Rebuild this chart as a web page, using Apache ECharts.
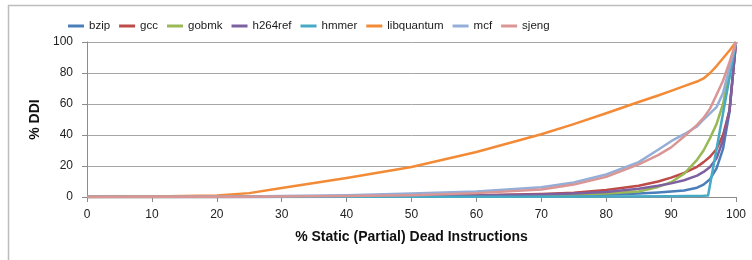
<!DOCTYPE html>
<html>
<head>
<meta charset="utf-8">
<script src="https://cdn.jsdelivr.net/npm/echarts@6/dist/echarts.min.js"></script>
<style>
  html, body { margin: 0; padding: 0; background: #fff; }
  #main { width: 752px; height: 260px; }
</style>
</head>
<body>
<div id="main"></div>
<script>
// sample points along the x axis (% static dead instructions)
var xs = [0, 10, 20, 25, 30, 40, 50, 60, 70, 75, 80, 85, 88, 90, 92, 94, 95, 96, 97, 98, 99, 100];

var bzip       = [0, 0, 0, 0, 0, 0.1, 0.2, 0.4, 0.7, 1, 1.4, 2.2, 2.9, 3.5, 4.2, 6, 8, 11.5, 18.5, 31, 55, 100];
var gcc        = [0, 0, 0, 0.1, 0.2, 0.4, 0.7, 1.2, 2, 2.8, 4.5, 7.3, 10, 12.5, 15.5, 19.5, 22.5, 26, 31, 40, 56, 100];
var gobmk      = [0, 0, 0, 0, 0.1, 0.2, 0.4, 0.7, 1.2, 1.6, 2.3, 3.5, 6.5, 9.5, 15, 24, 30, 38, 47, 60, 81, 100];
var h264ref    = [0, 0, 0, 0, 0.1, 0.3, 0.5, 0.9, 1.6, 2.3, 3.3, 5.3, 7.2, 8.8, 10.8, 13.8, 16.2, 19.4, 25, 36.6, 56, 100];
var libquantum = [0, 0.3, 1, 2.5, 5.8, 12.2, 19.4, 29, 40.5, 47, 54, 61.3, 65.5, 68.5, 71.5, 74.5, 76.5, 80, 84.5, 89.5, 94.5, 100];
var mcf        = [0, 0.1, 0.3, 0.4, 0.6, 1.2, 2.2, 3.6, 6.3, 9.3, 14.5, 22.5, 30.5, 36, 40.5, 45.5, 50, 54, 58, 67, 83.5, 100];
var sjeng      = [0, 0, 0.1, 0.2, 0.3, 0.6, 1.2, 2.5, 4.8, 8, 13, 21, 27, 32, 39, 46.5, 51, 57, 66, 75, 87, 100];

// hmmer stays flat and jumps near the end, so it has its own x points
var hmmerX = [0, 50, 70, 80, 90, 95, 95.7, 100];
var hmmer  = [0, 0.1, 0.2, 0.3, 0.5, 0.8, 1, 100];

var names  = ['bzip', 'gcc', 'gobmk', 'h264ref', 'hmmer', 'libquantum', 'mcf', 'sjeng'];
var colors = ['#4A7EBB', '#BE4B48', '#98B954', '#7D60A0', '#46AAC5', '#F38A35', '#94AED8', '#D99694'];

var xTicks = [0, 10, 20, 30, 40, 50, 60, 70, 80, 90, 100];
var yTicks = [0, 20, 40, 60, 80, 100];

function pairs(x, y) {
    var out = [];
    for (var i = 0; i < x.length; i++) {
        out.push([x[i], y[i]]);
    }
    return out;
}

var seriesData = [
    pairs(xs, bzip),
    pairs(xs, gcc),
    pairs(xs, gobmk),
    pairs(xs, h264ref),
    pairs(hmmerX, hmmer),
    pairs(xs, libquantum),
    pairs(xs, mcf),
    pairs(xs, sjeng)
];

var font = 'Liberation Sans, Arial, sans-serif';
var chart = echarts.init(document.getElementById('main'));

var series = [];
names.forEach(function(name, i) {
    series.push({
        name: name,
        type: 'line',
        symbol: 'none',
        smooth: false,
        lineStyle: { width: 2.5, color: colors[i], join: 'round' },
        itemStyle: { color: colors[i] },
        data: seriesData[i]
    });
});

chart.setOption({
    animation: false,
    graphic: [{
        type: 'rect',
        shape: { x: 8.5, y: 5.5, width: 800, height: 300 },
        style: { fill: 'none', stroke: '#BDBDBD', lineWidth: 1.5 },
        silent: true
    }],
    legend: {
        data: names,
        left: 63,
        top: 15,
        icon: 'rect',
        itemWidth: 16,
        itemHeight: 3,
        itemGap: 9,
        textStyle: { fontFamily: font, fontSize: 11.5, color: '#1a1a1a' }
    },
    grid: { left: 87, right: 16, top: 42, bottom: 63 },
    xAxis: {
        type: 'value',
        min: xTicks[0],
        max: xTicks[xTicks.length - 1],
        interval: 10,
        name: '% Static (Partial) Dead Instructions',
        nameLocation: 'middle',
        nameGap: 33,
        nameTextStyle: { fontFamily: font, fontSize: 14, fontWeight: 'bold', color: '#111' },
        axisLine: { lineStyle: { color: '#8C8C8C', width: 1 } },
        axisTick: { show: true, length: 5, lineStyle: { color: '#8C8C8C' } },
        axisLabel: { margin: 12, fontFamily: font, fontSize: 12, color: '#222' },
        splitLine: { show: false }
    },
    yAxis: {
        type: 'value',
        min: yTicks[0],
        max: yTicks[yTicks.length - 1],
        interval: 20,
        name: '% DDI',
        nameLocation: 'middle',
        nameGap: 42,
        nameTextStyle: { fontFamily: font, fontSize: 14, fontWeight: 'bold', color: '#111' },
        axisLine: { show: true, lineStyle: { color: '#8C8C8C', width: 1 } },
        axisTick: { show: true, length: 5, lineStyle: { color: '#8C8C8C' } },
        axisLabel: { margin: 14, fontFamily: font, fontSize: 12, color: '#222' },
        splitLine: { show: true, lineStyle: { color: '#A6A6A6', width: 1 } }
    },
    series: series
});
</script>
</body>
</html>
